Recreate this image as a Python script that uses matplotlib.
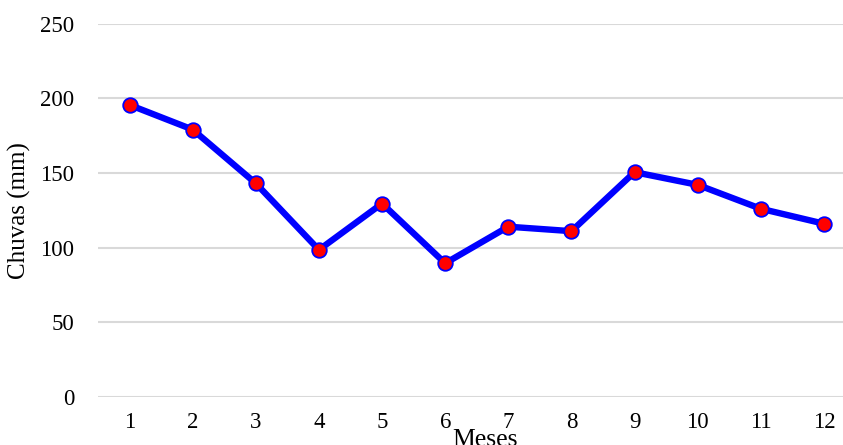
import numpy as np
import matplotlib
matplotlib.use("Agg")
from matplotlib import pyplot as plt

# monthly rainfall
meses = [1, 2, 3, 4, 5, 6, 7, 8, 9, 10, 11, 12]
chuvas = [195.5, 179, 143, 98.5, 129.5, 89.5, 114, 111, 150.5, 142, 126, 116]
y_ticks = [0, 50, 100, 150, 200, 250]

plt.rcParams['font.family'] = ['Liberation Serif', 'DejaVu Serif']

W, H = 843, 445
fig = plt.figure(figsize=(W / 100, H / 100), dpi=100)
# plot area in pixels: x 98..855.5, y 23.5..397
left, right, top, bottom = 98, 855.5, 23.5, 397
ax = fig.add_axes([left / W, 1 - bottom / H, (right - left) / W, (bottom - top) / H])

x = np.arange(len(meses))
ax.plot(x, chuvas, color='#0000ff', lw=4.6, zorder=3, solid_joinstyle='miter',
        marker='o', markersize=10.5, markerfacecolor='#ff0000',
        markeredgecolor='#0000ff', markeredgewidth=1.3)

ax.set_xlim(-0.5, len(meses) - 0.5)
ax.set_ylim(0, 250)
ax.set_xticks(x)
ax.set_xticklabels([str(m) for m in meses])
ax.set_yticks(y_ticks)

ax.grid(axis='y', color='#d9d9d9', lw=1.5, zorder=0)
ax.set_axisbelow(True)
for s in ax.spines.values():
    s.set_visible(False)
ax.tick_params(length=0, labelsize=16.5, colors='#000000')
ax.tick_params(axis='x', pad=11)
ax.tick_params(axis='y', pad=17)

ax.set_ylabel('Chuvas (mm)', fontsize=18)
ax.yaxis.set_label_coords(-(left - 19) / (right - left), 0.5)
ax.yaxis.label.set_va('center')
fig.text(485 / W, 1 - 445.5 / H, 'Meses', fontsize=18.5, ha='center', va='baseline')

fig.savefig('out.png', dpi=100)
